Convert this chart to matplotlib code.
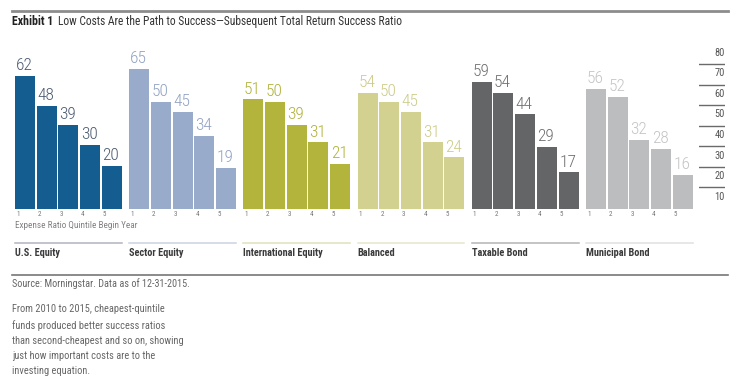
import matplotlib.pyplot as plt
from matplotlib import transforms

plt.rcParams['font.family'] = ['Roboto Condensed', 'Liberation Sans Narrow', 'Liberation Sans', 'DejaVu Sans']

categories = ["U.S. Equity", "Sector Equity", "International Equity",
              "Balanced", "Taxable Bond", "Municipal Bond"]
quintiles = ["1", "2", "3", "4", "5"]
values = [
    [62, 48, 39, 30, 20],
    [65, 50, 45, 34, 19],
    [51, 50, 39, 31, 21],
    [54, 50, 45, 31, 24],
    [59, 54, 44, 29, 17],
    [56, 52, 32, 28, 16],
]
bar_colors = ["#145d91", "#98abca", "#b3b43b", "#d2d18f", "#646567", "#bcbdbf"]
label_colors = ["#4c5b70", "#91a2c2", "#b0b13a", "#cccb88", "#6e6f71", "#c3c4c6"]
line_colors = ["#b0b4be", "#ccd3e1", "#e0e0bb", "#e6e5cc", "#b4b4b6", "#e0e0e0"]
right_ticks = [80, 70, 60, 50, 40, 30, 20, 10]

title_bold = "Exhibit 1"
title_rest = "Low Costs Are the Path to Success\u2014Subsequent Total Return Success Ratio"
source = "Source: Morningstar. Data as of 12-31-2015."
note = ("From 2010 to 2015, cheapest-quintile\nfunds produced better success ratios\n"
        "than second-cheapest and so on, showing\njust how important costs are to the\n"
        "investing equation.")

W, H = 740, 384
fig = plt.figure(figsize=(W / 100, H / 100), dpi=100)

def fy(p):
    return 1 - p / H

pitch = 21.7
panel = 114.2 / pitch
bw = 20 / pitch
x_end = 5 * panel + 4 + bw

ax = fig.add_axes([15 / W, fy(209), 677.7 / W, 172 / H])
ax.set_xlim(0, x_end)
ax.set_ylim(0, 80)
ax.axis('off')
bt = transforms.blended_transform_factory(ax.transData, fig.transFigure)

for i, (cat, vals) in enumerate(zip(categories, values)):
    xs = [i * panel + j for j in range(len(vals))]
    ax.bar(xs, vals, width=bw, align='edge', color=bar_colors[i])
    for x, v, q in zip(xs, vals, quintiles):
        ax.annotate(str(v), (x, v), xytext=(0.5, 2), textcoords='offset points',
                    ha='left', va='bottom', fontsize=12.5, fontweight='light',
                    color=label_colors[i])
        ax.text(x + 0.05, fy(215), q, transform=bt, fontsize=5, color="#777777",
                ha='left', va='center')
    ax.plot([xs[0], xs[-1] + bw], [fy(243.3)] * 2, transform=bt, color=line_colors[i],
            lw=1.1, clip_on=False)
    ax.text(xs[0], fy(252.5), cat, transform=bt, fontsize=7.4, fontweight='bold',
            color="#3a3a3a", ha='left', va='center')

ax.text(0, fy(225.5), "Expense Ratio Quintile Begin Year", transform=bt, fontsize=6.6,
        color="#808080", ha='left', va='center')

# right-hand scale
ax2 = fig.add_axes([699 / W, fy(209), 26 / W, 172 / H])
ax2.set_xlim(0, 1)
ax2.set_ylim(4.0, 87.6)
ax2.axis('off')
for v in right_ticks:
    ax2.text(1, v, str(v), ha='right', va='center', fontsize=7.5, color="#555555")
    if v > 10:
        ax2.plot([0, 1], [v - 5.5] * 2, color="#6a6a6a", lw=1)

# title and rules
fig.add_artist(plt.Line2D([12 / W, 728 / W], [fy(11)] * 2, color="#8c8c8c", lw=2))
t = fig.text(12 / W, fy(21.7), title_bold, fontsize=8.6, fontweight='bold', color="#222222",
             ha='left', va='center')
fig.canvas.draw()
bb = t.get_window_extent()
fig.text(bb.x1 / W + 5 / W, fy(21.7), title_rest, fontsize=8.3, color="#333333",
         ha='left', va='center')

fig.add_artist(plt.Line2D([12 / W, 728 / W], [fy(274.7)] * 2, color="#777777", lw=1.2))
fig.text(12 / W, fy(283.5), source, fontsize=7.3, color="#666666", ha='left', va='center')
fig.text(12 / W, fy(304), note, fontsize=7.5, color="#666666", ha='left', va='top',
         linespacing=1.64)

fig.savefig("out.png", dpi=100)
